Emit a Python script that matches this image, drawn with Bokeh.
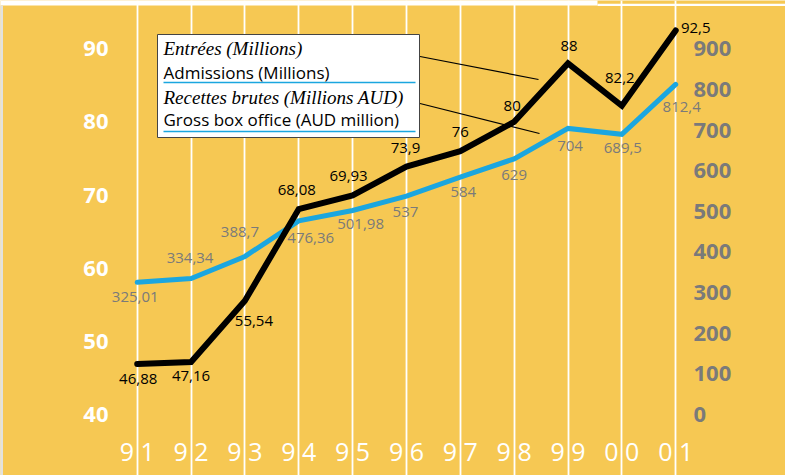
from bokeh.plotting import figure
from bokeh.models import ColumnDataSource, Range1d, LinearAxis, FixedTicker, Grid, Label
from bokeh.core.properties import value
from bokeh.embed import file_html
from bokeh.resources import INLINE

# ---------------- data ----------------
years = ["91", "92", "93", "94", "95", "96", "97", "98", "99", "00", "01"]
admissions = [46.88, 47.16, 55.54, 68.08, 69.93, 73.9, 76, 80, 88, 82.2, 92.5]
box_office = [325.01, 334.34, 388.7, 476.36, 501.98, 537, 584, 629, 704, 689.5, 812.4]
left_ticks = [40, 50, 60, 70, 80, 90]
right_ticks = [0, 100, 200, 300, 400, 500, 600, 700, 800, 900]

# label offsets in screen pixels
adm_dx = [1, 0, 9, -2, -4, -1, 0, -2, 1, -2, 20]
adm_dy = [15, 14, 20, -19, -20, -18, -19, -16, -17, -28, -3]
bo_dx = [-2, -1, -5, 12, 8, -1, 3, 0, 2, 1, 6]
bo_dy = [15, -21, -24, 17, 14, 16, 15, 16, 18, 14, 23]

# ---------------- styles ----------------
YELLOW = "#F6C853"
BLUE = "#1BA6DF"
GRAY = "#7a7a7a"
FONT = "Open Sans"
SERIF = "Liberation Serif"

W, H = 785, 475
X0_PX, DXPX = 136.7, 53.85      # pixel of first category, pixels per category
Y40_PX, DYPX = 413.8, 7.31      # pixel of value 40, pixels per unit
RATIO = 18.0                    # right axis = (left - 40) * 18

x_start = -X0_PX / DXPX
x_end = (W - X0_PX) / DXPX
y_start = 40 - (H - Y40_PX) / DYPX
y_end = 40 + Y40_PX / DYPX


def px_x(px):
    return x_start + px / DXPX


def px_y(py):
    return y_end - py / DYPX


def fmt(v):
    return f"{v:g}".replace(".", ",")


p = figure(width=W, height=H,
           x_range=Range1d(x_start, x_end), y_range=Range1d(y_start, y_end),
           x_axis_type=None, y_axis_type=None,
           output_backend="svg", toolbar_location=None,
           min_border=0, background_fill_color=YELLOW,
           border_fill_color=YELLOW, outline_line_color=None)
p.extra_y_ranges = {"right": Range1d((y_start - 40) * RATIO, (y_end - 40) * RATIO)}

xs = list(range(len(years)))

# grid
xticker = FixedTicker(ticks=xs)
grid = Grid(dimension=0, ticker=xticker, grid_line_color="white", grid_line_width=1.8)
p.add_layout(grid, "center")

# frame decorations (white top band, thin strip on the left)
p.quad(left=[px_x(-2)], right=[px_x(597)], top=[px_y(-2)], bottom=[px_y(5)],
       fill_color="white", line_color=None, level="underlay")
p.quad(left=[px_x(597)], right=[px_x(W + 2)], top=[px_y(3.3)], bottom=[px_y(5.5)],
       fill_color="white", line_color=None, level="underlay")
p.quad(left=[px_x(-2)], right=[px_x(2.5)], top=[px_y(5)], bottom=[px_y(H + 2)],
       fill_color="#e2e2de", line_color=None, level="underlay")

# axes (drawn at fixed locations inside the frame)
xaxis = LinearAxis(ticker=xticker,
                   major_label_overrides={i: f"{y[0]} {y[1]}" for i, y in enumerate(years)},
                   fixed_location=px_y(431))
yl = LinearAxis(ticker=FixedTicker(ticks=left_ticks), fixed_location=px_x(112))
yr = LinearAxis(ticker=FixedTicker(ticks=right_ticks), y_range_name="right",
                fixed_location=px_x(689))
for ax in (xaxis, yl, yr):
    ax.axis_line_color = None
    ax.major_tick_line_color = None
    ax.minor_tick_line_color = None
    ax.major_tick_out = 0
    ax.major_tick_in = 0
    ax.major_label_text_font = FONT
xaxis.major_label_text_color = "white"
xaxis.major_label_text_font_size = "25px"
xaxis.major_label_standoff = 2
yl.major_label_text_color = "white"
yl.major_label_text_font_size = "22px"
yl.major_label_text_font_style = "bold"
yl.major_label_standoff = 4
yr.major_label_text_color = GRAY
yr.major_label_text_font_size = "22px"
yr.major_label_text_font_style = "bold"
yr.major_label_standoff = 4
p.add_layout(xaxis, "below")
p.add_layout(yl, "left")
p.add_layout(yr, "right")

# legend box (under the lines)
p.quad(left=[px_x(157)], right=[px_x(419)], top=[px_y(34)], bottom=[px_y(137)],
       fill_color="white", line_color="#444444", line_width=1)
p.segment(x0=[px_x(163), px_x(163)], x1=[px_x(415), px_x(415)],
          y0=[px_y(82), px_y(131)], y1=[px_y(82), px_y(131)],
          line_color=BLUE, line_width=1.5)
p.segment(x0=[px_x(419.5), px_x(419.5)], x1=[px_x(538), px_x(539)],
          y0=[px_y(56), px_y(103)], y1=[px_y(79), px_y(133)],
          line_color="black", line_width=1.2)

legend_rows = [("Entrées (Millions)", 48, SERIF, "italic", "19px"),
               ("Admissions (Millions)", 72, FONT, "normal", "17px"),
               ("Recettes brutes (Millions AUD)", 97, SERIF, "italic", "19px"),
               ("Gross box office (AUD million)", 119, FONT, "normal", "17px")]
for txt, py, font, style, size in legend_rows:
    p.add_layout(Label(x=px_x(163), y=px_y(py), text=txt, text_font=font,
                       text_font_style=style, text_font_size=size,
                       text_color="black", text_baseline="middle", text_align="left"))

# data lines
bo_src = ColumnDataSource(dict(x=xs, y=box_office, t=[fmt(v) for v in box_office],
                               dx=bo_dx, dy=bo_dy))
ad_src = ColumnDataSource(dict(x=xs, y=admissions, t=[fmt(v) for v in admissions],
                               dx=adm_dx, dy=adm_dy))

p.line("x", "y", source=bo_src, y_range_name="right", line_color=BLUE,
       line_width=5, line_join="miter", line_cap="round")
p.line("x", "y", source=ad_src, line_color="black",
       line_width=6, line_join="miter", line_cap="round")

p.text("x", "y", text="t", source=bo_src, y_range_name="right",
       x_offset="dx", y_offset="dy", text_align="center", text_baseline="middle",
       text_font=value(FONT), text_font_size=value("15px"), text_color=GRAY)
p.text("x", "y", text="t", source=ad_src,
       x_offset="dx", y_offset="dy", text_align="center", text_baseline="middle",
       text_font=value(FONT), text_font_size=value("15px"), text_color="black")

open("out.html", "w").write(file_html(p, INLINE))
